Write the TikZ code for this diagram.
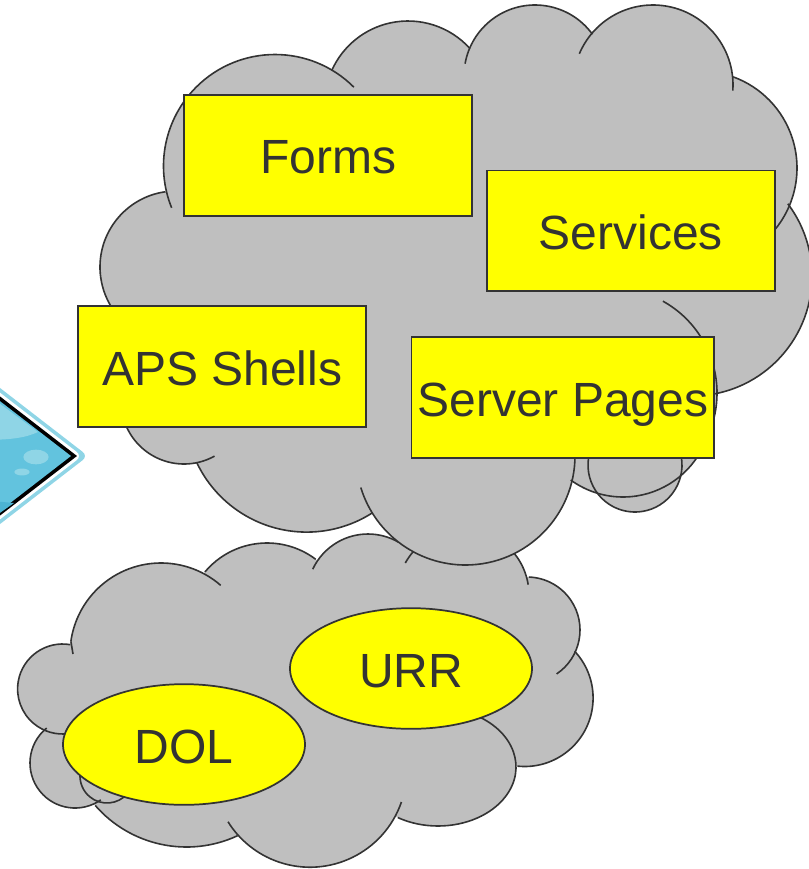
\documentclass[tikz,border=0pt]{standalone}
\usepackage{fontspec}
\setmainfont{Liberation Sans}
\usetikzlibrary{shapes.geometric}

\definecolor{cloudgray}{HTML}{BFBFBF}
\definecolor{inkgray}{HTML}{333333}
\definecolor{boxyellow}{HTML}{FFFF00}
\definecolor{tipblue}{HTML}{62C3DE}
\definecolor{tiplight}{HTML}{8FD5E6}
\definecolor{tipdark}{HTML}{4CB3D2}

\tikzset{
  cloudline/.style={draw=inkgray,line width=1.2pt},
  label text/.style={text=inkgray,font=\fontsize{36}{40}\selectfont,text height=28pt,text depth=0pt,inner sep=0pt},
  yellowbox/.style={rectangle,draw=inkgray,line width=1.4pt,fill=boxyellow,label text,minimum height=90.5pt},
  yellowoval/.style={ellipse,draw=inkgray,line width=1.3pt,fill=boxyellow,label text,minimum width=181.5pt,minimum height=90.5pt}
}

\begin{document}
\begin{tikzpicture}[x=0.75pt,y=-0.75pt]
\useasboundingbox (0,0) rectangle (809,869);
\clip (0,0) rectangle (809,869);
% arrow tip at the left edge
\begin{scope}[rounded corners=5pt]
  \fill[tiplight] (-20,372.5) -- (88,456) -- (-20,539.5) -- cycle;
  \fill[white] (-20,377.2) -- (82,456) -- (-20,534.8) -- cycle;
\end{scope}
\fill[black] (-20,381) -- (77,456) -- (-20,531) -- cycle;
\fill[tipblue] (-20,385.7) -- (71,456) -- (-20,526.3) -- cycle;
\fill[tiplight] (-20,389) -- (38,432) .. controls (25,438) and (10,440) .. (-20,440) -- cycle;
\fill[tipdark] (-20,500) -- (14,503) -- (-20,527) -- cycle;
\fill[tiplight] (36,457) ellipse (9.5pt and 5.5pt);
\fill[tiplight] (22,472) ellipse (5.7pt and 2.6pt);

% lower cloud
\begin{scope}
  \fill[cloudgray] (100,640) -- (300,570) -- (500,590) -- (560,680) -- (450,790) -- (200,800) -- (70,760) -- cycle;
  \fill[cloudgray] (438,767) ellipse (58.5pt and 44.25pt);
  \foreach \cx/\cy/\rad/\from/\to in {
      62.6/689/45/80/278,
      161/654/91/49/172,
      267/624/81/53/140,
      368/595/61/60/155,
      463/595/66/9/151,
      527/630/53/-56/88,
      524.6/698/68.5/-96/43,
      310/770.5/96.7/-19/-148,
      186.5/726/121/-65/-139,
      75/763/45/129/305,
      107/776/27/-40/-185} {
    \fill[cloudgray] (\cx,\cy) circle (\rad*0.75pt);
  }
  \foreach \cx/\cy/\rad/\from/\to in {
      62.6/689/45/80/278,
      161/654/91/49/172,
      267/624/81/53/140,
      368/595/61/60/155,
      463/595/66/9/151,
      527/630/53/-56/88,
      524.6/698/68.5/-96/43,
      310/770.5/96.7/-19/-148,
      186.5/726/121/-65/-139,
      75/763/45/129/305,
      107/776/27/-40/-185} {
    \draw[cloudline] (\cx,\cy) ++(\from:\rad*0.75pt) arc[start angle=\from,end angle=\to,radius=\rad*0.75pt];
  }
  \draw[cloudline] (70.9,641.3) -- (73,654);
  \draw[cloudline] (438,767) ++(60:58.5pt and 44.25pt) arc[start angle=60,end angle=-121,x radius=58.5pt,y radius=44.25pt];
\end{scope}

% upper cloud
\begin{scope}
  \fill[cloudgray] (200,150) -- (450,60) -- (650,80) -- (720,250) -- (650,400) -- (450,500) -- (200,420) -- (130,270) -- cycle;
  \fill[cloudgray] (612,393) ++(61:78.75pt) arc[start angle=61,end angle=-25,radius=78.75pt] -- cycle;
  \foreach \cx/\cy/\rad in {
      176/267/76,
      184/401/63,
      275/166/111.5,
      408/104.5/83.5,
      535/76/71,
      653/85/80,
      700/168/97,
      692/276/120,
      623/408/89,
      635/465/47,
      306.7/410.4/121.7,
      465.5/455.5/109.5} {
    \fill[cloudgray] (\cx,\cy) circle (\rad*0.75pt);
  }
  \foreach \cx/\cy/\rad/\from/\to in {
      176/267/76/98/215,
      184/401/63/195/299,
      275/166/111.5/45/202,
      408/104.5/83.5/42/156,
      535/76/71/36/170,
      653/85/80/-4/157,
      700/168/97/-42/70,
      692/276/120/-79/37,
      612/393/105/61/-25,
      623/408/89/-25/-126,
      635/465/47/9/-189,
      306.7/410.4/121.7/-57.5/-154.4,
      465.5/455.5/109.5/3/-163} {
    \draw[cloudline] (\cx,\cy) ++(\from:\rad*0.75pt) arc[start angle=\from,end angle=\to,radius=\rad*0.75pt];
  }
\end{scope}

\node[yellowbox,minimum width=216pt] (forms) at (328.3,155.3) {Forms};
\node[yellowbox,minimum width=216pt] (services) at (630.8,230.8) {Services};
\node[yellowbox,minimum width=216pt] (apsshells) at (222.3,366.5) {APS Shells};
\node[yellowbox,minimum width=227pt] (serverpages) at (562.8,397.5) {Server Pages};
\node[yellowoval] (urr) at (411,668.5) {URR};
\node[yellowoval] (dol) at (184,744.5) {DOL};
\end{tikzpicture}
\end{document}
